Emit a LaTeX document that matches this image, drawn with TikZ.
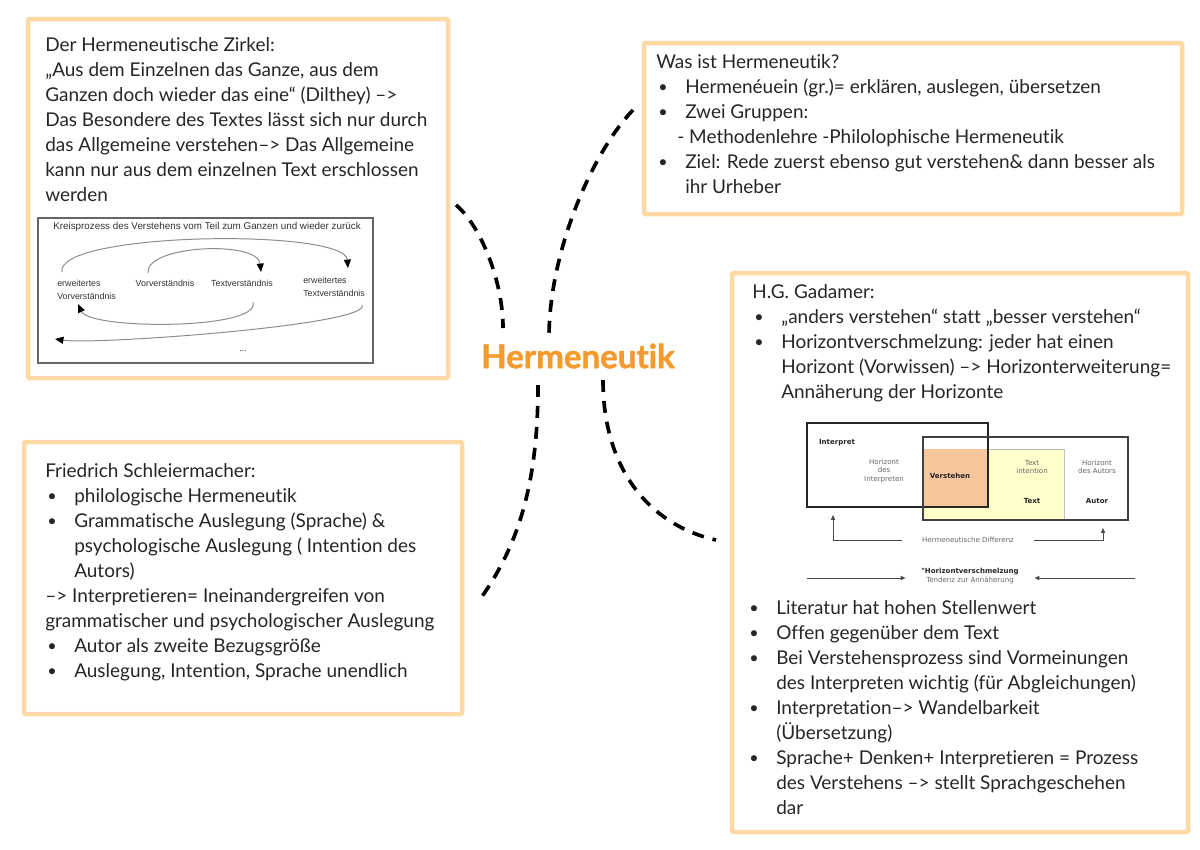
\documentclass[tikz,border=0pt]{standalone}
\usepackage{fontspec}
\setmainfont{Lato}[Ligatures={TeX,NoCommon}]
\newfontfamily\heavy{Lato}[Ligatures={TeX,NoCommon}, BoldFeatures={FakeBold=1.3}]
\newfontfamily\figfont{Liberation Sans}
\newfontfamily\horfont{DejaVu Sans}
\usetikzlibrary{arrows.meta}
\definecolor{panelc}{HTML}{FFD9A3}
\definecolor{titlec}{HTML}{F59A2C}
\definecolor{inkc}{HTML}{262626}
\definecolor{verstc}{HTML}{F5C59B}
\definecolor{textc}{HTML}{FFFFCC}
\newlength\pxu
\setlength\pxu{0.025cm}
\newcommand\bul{\makebox[29\pxu][l]{\hspace*{2\pxu}\raisebox{0.5pt}{\scalebox{0.85}{\textbullet}}}}
\newcommand\hang{\hspace*{29\pxu}}
\begin{document}
\begin{tikzpicture}[x=0.025cm, y=-0.025cm,
  panel/.style={draw=panelc, line width=3.2pt, rounded corners=1pt},
  body/.style={anchor=north west, inner sep=0pt, align=left, text=inkc, font=\fontsize{13.5}{17.8}\selectfont},
  link/.style={line width=2.6pt, dash pattern=on 8.5pt off 6.4pt},
  cyc/.style={draw=black!45, line width=0.7pt, -{Triangle[color=black, length=6pt, width=5pt]}},
  small/.style={font=\figfont\fontsize{6.3}{9.5}\selectfont, text=black!80, inner sep=0pt},
  hz/.style={font=\horfont\fontsize{5}{6}\selectfont, text=black!60, align=center, inner sep=0pt},
  hzb/.style={hz, text=black!85, font=\horfont\bfseries\fontsize{5}{6}\selectfont},
  hzarr/.style={draw=black!70, line width=0.6pt, -{Triangle[length=3.5pt, width=3pt]}}
]
\useasboundingbox (0,0) rectangle (1200,849);
\fill[white] (0,0) rectangle (1200,849);

% panels
\draw[panel] (28,19) rectangle (448,378);
\draw[panel] (644,43) rectangle (1182,214);
\draw[panel] (24,442) rectangle (462,714);
\draw[panel] (732,273) rectangle (1188,832);

\node[font=\heavy\bfseries\fontsize{23.5}{28}\selectfont, text=titlec] (hm) at (578,356) {Hermeneutik};

% Zirkel
\node[body] (zk) at (45,37) {Der Hermeneutische Zirkel:\\
„Aus dem Einzelnen das Ganze, aus dem\\
Ganzen doch wieder das eine“ (Dilthey) –>\\
Das Besondere des Textes lässt sich nur durch\\
das Allgemeine verstehen–> Das Allgemeine\\
kann nur aus dem einzelnen Text erschlossen\\
werden};

\draw[draw=black!60, line width=1.6pt, fill=white] (38,218) rectangle (373,363);
\node[small, font=\figfont\fontsize{7}{8}\selectfont] (kp) at (207,227) {Kreisprozess des Verstehens vom Teil zum Ganzen und wieder zurück};
\node[small, anchor=west, align=left] (ev) at (57,290) {erweitertes\\Vorverständnis};
\node[small] (vv) at (165,283) {Vorverständnis};
\node[small] (tv) at (242,283) {Textverständnis};
\node[small, anchor=west, align=left] (et) at (303,287) {erweitertes\\Textverständnis};
\node[small] (dots) at (243,351) {...};
\draw[cyc] (148,273) coordinate (a1) .. controls (145,245) and (258,240) .. (261,272) coordinate (a2);
\draw[cyc] (62,272) coordinate (b1) .. controls (55,232) and (345,228) .. (348,268) coordinate (b2);
\draw[cyc] (253,302) coordinate (c1) .. controls (262,330) and (90,330) .. (78,304) coordinate (c2);
\draw[cyc] (362,305) coordinate (d1) .. controls (372,325) and (95,345) .. (55,339) coordinate (d2);

% Was ist
\node[body] (wh) at (656,54) {Was ist Hermeneutik?\\
\bul Hermenéuein (gr.)= erklären, auslegen, übersetzen\\
\bul Zwei Gruppen:\\
\makebox[166\pxu][l]{\hspace*{21\pxu}- Methodenlehre}-Philolophische Hermeneutik\\
\bul Ziel: Rede zuerst ebenso gut verstehen\& dann besser als\\
\hang ihr Urheber};

% Schleiermacher
\node[body] (fs) at (45,463) {Friedrich Schleiermacher:\\
\bul philologische Hermeneutik\\
\bul Grammatische Auslegung (Sprache) \&\\
\hang psychologische Auslegung ( Intention des\\
\hang Autors)\\
–> Interpretieren= Ineinandergreifen von\\
grammatischer und psychologischer Auslegung\\
\bul Autor als zweite Bezugsgröße\\
\bul Auslegung, Intention, Sprache unendlich};

% Gadamer
\node[body] (gd) at (752,284) {H.G. Gadamer:\\
\bul „anders verstehen“ statt „besser verstehen“\\
\bul Horizontverschmelzung: jeder hat einen\\
\hang Horizont (Vorwissen) –> Horizonterweiterung=\\
\hang Annäherung der Horizonte};

\fill[white, draw=black!75, line width=0.8pt] (923,437) rectangle (1128,520);
\fill[textc, draw=black!25, line width=0.5pt] (923,449) rectangle (1064,520);
\fill[verstc] (923,449) rectangle (988,507);
\draw[black!85, line width=1.5pt] (807,423) rectangle (988,507);
\draw[black!75, line width=0.8pt] (923,437) rectangle (1128,520);
\node[hzb] (ip) at (837,443) {Interpret};
\node[hz] (hi) at (884,471) {Horizont\\des\\Interpreten};
\node[hzb] (vs) at (950,476) {Verstehen};
\node[hz] (ti) at (1032,467) {Text\\intention};
\node[hzb] (tx) at (1032,501) {Text};
\node[hz] (ha) at (1097,467) {Horizont\\des Autors};
\node[hzb] (au) at (1097,501) {Autor};
\node[hz, inner xsep=14pt] (hd) at (968,540) {Hermeneutische Differenz};
\node[hz, inner xsep=11pt] (hv) at (970,576) {{\bfseries\color{black!85}"Horizontverschmelzung}\\Tendenz zur Annäherung};
\coordinate (ipA) at (833,515);
\coordinate (auA) at (1103,528);
\coordinate (hvL) at (807,578);
\coordinate (hvR) at (1135,578);
\draw[hzarr] (hd.west) -| (ipA);
\draw[hzarr] (hd.east) -| (auA);
\draw[hzarr] (hvL) -- (hvL -| hv.west);
\draw[hzarr] (hvR) -- (hvR -| hv.east);

\node[body] (gl) at (747,600) {\bul Literatur hat hohen Stellenwert\\
\bul Offen gegenüber dem Text\\
\bul Bei Verstehensprozess sind Vormeinungen\\
\hang des Interpreten wichtig (für Abgleichungen)\\
\bul Interpretation–> Wandelbarkeit\\
\hang (Übersetzung)\\
\bul Sprache+ Denken+ Interpretieren = Prozess\\
\hang des Verstehens –> stellt Sprachgeschehen\\
\hang dar};

% links to the centre
\coordinate (lA) at (456,205);
\coordinate (lB) at (633,110);
\coordinate (lC) at (478,602);
\coordinate (lD) at (716,540);
\draw[link] (lA) .. controls (480,225) and (503,280) .. (503,328);
\draw[link] (lB) .. controls (590,155) and (549,255) .. (549,337);
\draw[link] (538,385) .. controls (538,480) and (520,545) .. (lC);
\draw[link] (603,380) .. controls (603,470) and (650,525) .. (lD);
\end{tikzpicture}
\end{document}
